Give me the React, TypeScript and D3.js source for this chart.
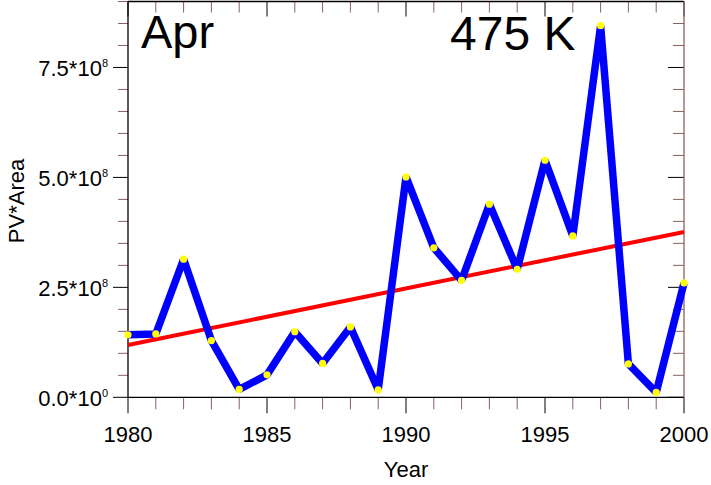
import React from "react";
import * as d3 from "d3";

const years = [1980, 1981, 1982, 1983, 1984, 1985, 1986, 1987, 1988, 1989, 1990, 1991, 1992, 1993, 1994, 1995, 1996, 1997, 1998, 1999, 2000];
const values = [1.42e8, 1.44e8, 3.14e8, 1.29e8, 0.18e8, 0.51e8, 1.49e8, 0.77e8, 1.6e8, 0.17e8, 5.01e8, 3.4e8, 2.66e8, 4.39e8, 2.91e8, 5.39e8, 3.67e8, 8.45e8, 0.76e8, 0.11e8, 2.6e8];
const trendYears = [1980, 2000];
const trendValues = [1.19e8, 3.76e8];
const xTickLabels = ["1980", "1985", "1990", "1995", "2000"];
const yTickMantissa = ["0.0", "2.5", "5.0", "7.5"];
const yTickExp = ["0", "8", "8", "8"];
const yTickValues = [0, 2.5e8, 5e8, 7.5e8];

const W = 711;
const H = 485;
const L = 128, R = 684, T = 1.5, B = 397.3;
const FONT = "'Liberation Sans', Arial, sans-serif";
const MINOR = "#8b5f5f";

export default function App() {
  const x = d3.scaleLinear().domain([1980, 2000]).range([L, R]);
  const y = d3.scaleLinear().domain([0, 9e8]).range([B, T]);
  const pts: [number, number][] = years.map((yr, i) => [yr, values[i]]);
  const line = d3.line<[number, number]>().x((d) => x(d[0])).y((d) => y(d[1]));
  const trendPts: [number, number][] = trendYears.map((yr, i) => [yr, trendValues[i]]);

  const xMinor = d3.range(1980, 2001, 1);
  const yMinor = d3.range(0, 9e8 + 1, 0.5e8);

  return (
    <svg width={W} height={H} style={{ position: "absolute", left: 0, top: 0, display: "block" }} fontFamily={FONT}>
      <rect x={0} y={0} width={W} height={H} fill="#fff" />
      {xMinor.map((v) => {
        const major = (v - 1980) % 5 === 0;
        const xx = x(v);
        return (
          <g key={"xt" + v}>
            <line x1={xx} x2={xx} y1={B} y2={B + (major ? 16 : 12)} stroke={major ? "#000" : MINOR} strokeWidth={1} />
            <line x1={xx} x2={xx} y1={T} y2={T + (major ? 15 : 11)} stroke={major ? "#000" : MINOR} strokeWidth={1} />
          </g>
        );
      })}
      {yMinor.map((v) => {
        const major = Math.round(v / 0.5e8) % 5 === 0;
        const yy = y(v);
        return (
          <g key={"yt" + v}>
            <line x1={L - (major ? 15 : 10)} x2={L} y1={yy} y2={yy} stroke={major ? "#000" : MINOR} strokeWidth={1} />
            <line x1={R - (major ? 16 : 11)} x2={R} y1={yy} y2={yy} stroke={major ? "#000" : MINOR} strokeWidth={1} />
          </g>
        );
      })}
      <line x1={L} x2={R} y1={T} y2={T} stroke="#000" strokeWidth={1.3} />
      <line x1={L} x2={R} y1={B} y2={B} stroke="#000" strokeWidth={1.3} />
      <line x1={L} x2={L} y1={T} y2={B} stroke="#000" strokeWidth={1.3} />
      <line x1={R} x2={R} y1={T} y2={B} stroke={MINOR} strokeWidth={1.3} />

      <path d={line(trendPts) || ""} fill="none" stroke="#ff0000" strokeWidth={4} />
      <path d={line(pts) || ""} fill="none" stroke="#0000ff" strokeWidth={7.5} strokeLinejoin="bevel" />
      {pts.map((d, i) => (
        <circle key={"p" + i} cx={x(d[0])} cy={y(d[1])} r={3.6} fill="#ffff00" />
      ))}

      {xTickLabels.map((t) => (
        <text key={"xl" + t} x={x(+t)} y={442} textAnchor="middle" fontSize={22} fill="#000">
          {t}
        </text>
      ))}
      {yTickValues.map((v, i) => (
        <text key={"yl" + i} x={108} y={y(v) + 8.5} textAnchor="end" fontSize={22} fill="#000">
          {yTickMantissa[i] + "*10"}
          <tspan dy={-9} fontSize={11}>{yTickExp[i]}</tspan>
        </text>
      ))}
      <text x={406} y={477} textAnchor="middle" fontSize={22} fill="#000">Year</text>
      <text transform={`translate(24, 201) rotate(-90)`} textAnchor="middle" fontSize={22} fill="#000">PV*Area</text>
      <text x={141} y={48.3} fontSize={47} fill="#000">Apr</text>
      <text x={450} y={50} fontSize={48} fill="#000">475 K</text>
    </svg>
  );
}
